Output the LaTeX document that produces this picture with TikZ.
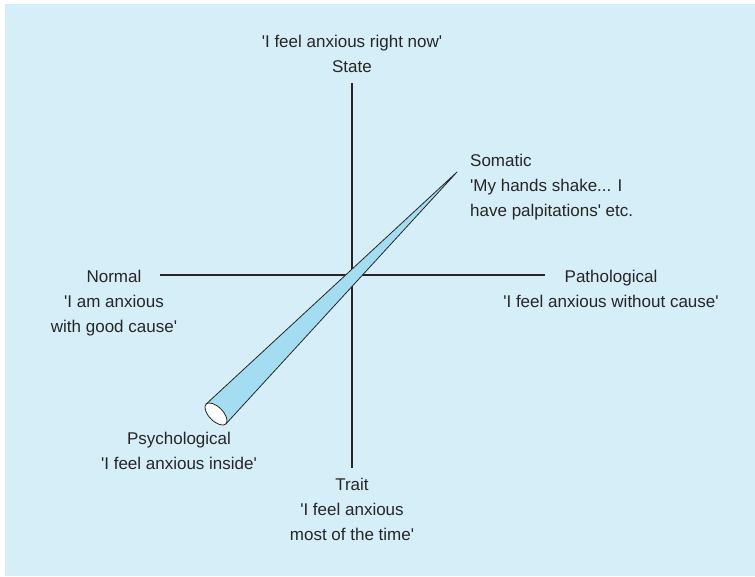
\documentclass[tikz,border=0pt]{standalone}
\usepackage{fontspec}
\setmainfont{Liberation Sans}[Ligatures=TeXOff]
\usepackage{tikz}
\usetikzlibrary{positioning,calc}
\definecolor{panelblue}{RGB}{214,238,248}
\definecolor{coneblue}{RGB}{164,221,242}
\definecolor{textgrey}{RGB}{38,38,38}

\begin{document}
\begin{tikzpicture}[x=1pt, y=-1pt,
    labelnode/.style={inner sep=0pt, align=center, text=textgrey, font=\fontsize{17}{25}\selectfont},
    axisline/.style={line width=1.6pt, draw=black!85},
    ]
    \useasboundingbox (0,0) rectangle (755,576);
    \fill[panelblue] (5,4) rectangle (755,576);

    %Axis ends
    \coordinate (stateend)  at (352,83);
    \coordinate (traitend)  at (352,468);
    \coordinate (normalend) at (160,275);
    \coordinate (pathend)   at (545,275);
    \coordinate (conetip)   at (457,172);
    \coordinate (conebase)  at (216,414);

    %Nodes
    \node[labelnode] (state) [above=10pt of stateend] {'I feel anxious right now'\\State};
    \node[labelnode] (trait) [below=10pt of traitend] {Trait\\'I feel anxious\\most of the time'};
    \node[labelnode, anchor=north] (normal) at (114,270) {Normal\\'I am anxious\\with good cause'};
    \node[labelnode, anchor=north] (patho) at (611,270) {Pathological\\'I feel anxious without cause'};
    \node[labelnode, anchor=north] (psycho) at (179,432) {Psychological\\'I feel anxious inside'};
    \node[labelnode, anchor=north west, align=left] (somatic) at (470,154) {Somatic\\'My hands shake... I\\have palpitations' etc.};

    %Lines
    \draw[axisline] (stateend) -- (traitend);
    \draw[axisline] (normalend) -- (pathend);

    %Cone
    \filldraw[fill=coneblue, draw=black!85, line width=0.8pt, line join=round]
        ($(conebase)!14pt!90:(conetip)$) -- (conetip) -- ($(conebase)!14pt!-90:(conetip)$) -- cycle;
    \filldraw[fill=white, draw=black!85, line width=0.8pt]
        (conebase) ellipse [x radius=7pt, y radius=14pt, rotate=45];
\end{tikzpicture}
\end{document}
